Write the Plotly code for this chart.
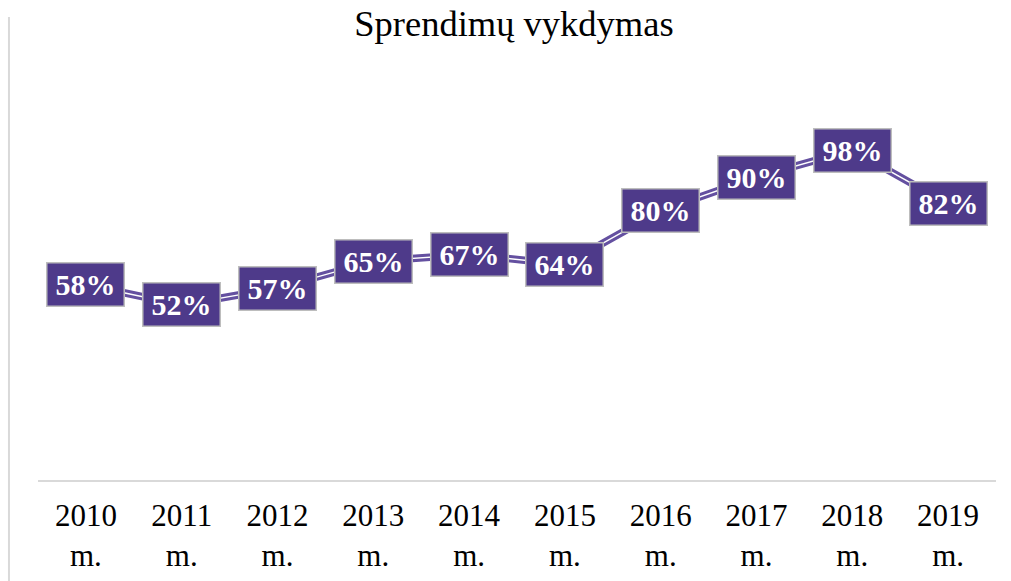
import plotly.graph_objects as go

years = ["2010", "2011", "2012", "2013", "2014", "2015", "2016", "2017", "2018", "2019"]
tick_labels = [f"{y}<br>m." for y in years]
values = [0.58, 0.52, 0.57, 0.65, 0.67, 0.64, 0.80, 0.90, 0.98, 0.82]
value_labels = [f"{round(v * 100)}%" for v in values]

LINE_COLOR = "#6450a0"
BOX_COLOR = "#4e3a8a"
SERIF = "Liberation Serif, Times New Roman, serif"

fig = go.Figure()
# double ("compound") line: wide purple line with thin white stripe on top
fig.add_trace(go.Scatter(x=tick_labels, y=values, mode="lines",
                         line=dict(color=LINE_COLOR, width=7.5),
                         hoverinfo="skip", showlegend=False))
fig.add_trace(go.Scatter(x=tick_labels, y=values, mode="lines",
                         line=dict(color="white", width=1.4),
                         hoverinfo="skip", showlegend=False))

for x, v, t in zip(tick_labels, values, value_labels):
    fig.add_annotation(x=x, y=v, text=f"<b>{t}</b>", showarrow=False,
                       font=dict(family=SERIF, size=30, color="white"),
                       bgcolor=BOX_COLOR, bordercolor="#bdbdbd", borderwidth=1.5,
                       borderpad=0, width=76, height=42,
                       xanchor="center", yanchor="middle")

# left chart border line
fig.add_shape(type="line", xref="paper", yref="paper",
              x0=-0.0303, x1=-0.0303, y0=-0.26, y1=1.146,
              line=dict(color="#d9d9d9", width=2))

fig.update_layout(
    width=1011, height=581,
    margin=dict(l=38, r=15, t=76, b=101, autoexpand=False),
    paper_bgcolor="white", plot_bgcolor="white",
    title=dict(text="Sprendimų vykdymas", x=514 / 1011, xanchor="center",
               y=1 - 23 / 581, yanchor="middle", yref="container",
               font=dict(family=SERIF, size=36.5, color="black")),
    xaxis=dict(showgrid=False, showline=True, linecolor="#d9d9d9", linewidth=1.5,
               ticks="", ticklabelstandoff=7, automargin=False,
               tickfont=dict(family=SERIF, size=31, color="black"),
               range=[-0.5, 9.5], fixedrange=True),
    yaxis=dict(visible=False, range=[0, 1.2], showgrid=False, zeroline=False,
               fixedrange=True, automargin=False),
    showlegend=False,
)

fig.write_html("out.html",
               config={"displayModeBar": False},
               post_script="document.body.style.margin='0';document.body.style.overflow='hidden';")
